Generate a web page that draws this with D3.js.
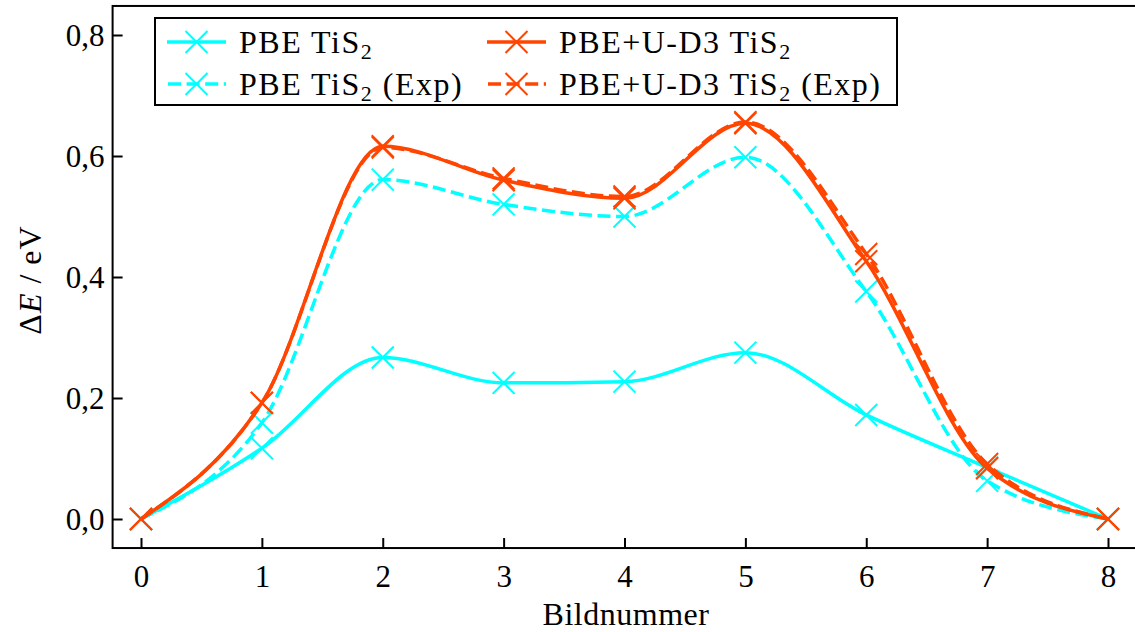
<!DOCTYPE html>
<html>
<head>
<meta charset="utf-8">
<script src="https://cdn.jsdelivr.net/npm/d3@7"></script>
<style>
  html, body { margin: 0; padding: 0; background: #fff; }
  svg { display: block; }
  text { font-family: "Liberation Serif", "DejaVu Serif", serif; fill: #000; }
</style>
</head>
<body>
<svg id="chart" width="1135" height="632"></svg>
<script>
// Image index along the reaction path
const images = [0, 1, 2, 3, 4, 5, 6, 7, 8];

// Relative energies in eV
const pbe        = [0.000, 0.117, 0.267, 0.225, 0.227, 0.275, 0.172, 0.085, 0.000];
const pbeExp     = [0.000, 0.159, 0.561, 0.520, 0.500, 0.598, 0.376, 0.063, 0.000];
const pbeUD3     = [0.000, 0.192, 0.616, 0.560, 0.530, 0.654, 0.426, 0.084, 0.000];
const pbeUD3Exp  = [0.000, 0.192, 0.614, 0.563, 0.533, 0.656, 0.438, 0.091, 0.000];

const xTicks = [0, 1, 2, 3, 4, 5, 6, 7, 8];
const yTicks = [0.0, 0.2, 0.4, 0.6, 0.8];

const seriesNames = ["PBE TiS", "PBE TiS", "PBE+U-D3 TiS", "PBE+U-D3 TiS"];
const seriesSuffix = ["", " (Exp)", "", " (Exp)"];
const seriesColors = ["#00ffff", "#00ffff", "#ff4500", "#ff4500"];
const seriesDashed = [false, true, false, true];
const seriesValues = [pbe, pbeExp, pbeUD3, pbeUD3Exp];

const svg = d3.select("#chart");

const x = d3.scaleLinear().domain([0, 8]).range([141, 1108]);
const y = d3.scaleLinear().domain([0, 0.8]).range([519, 35]);
const xLim = [-0.235, 8.25];
const yLim = [-0.048, 0.848];

const line = d3.line()
  .x((d, i) => x(images[i]))
  .y(d => y(d))
  .curve(d3.curveMonotoneX);

const LW = 3.5;
const DASH = "13,5.6";
const MS = 11;

function drawX(g, cx, cy, color) {
  g.append("path")
    .attr("d", `M${cx - MS},${cy - MS}L${cx + MS},${cy + MS}M${cx - MS},${cy + MS}L${cx + MS},${cy - MS}`)
    .attr("stroke", color).attr("stroke-width", 2).attr("fill", "none");
}

// Data series
const plot = svg.append("g");
seriesValues.forEach((vals, s) => {
  const g = plot.append("g");
  g.append("path")
    .attr("d", line(vals))
    .attr("fill", "none")
    .attr("stroke", seriesColors[s])
    .attr("stroke-width", LW)
    .attr("stroke-dasharray", seriesDashed[s] ? DASH : null);
  vals.forEach((v, i) => drawX(g, x(images[i]), y(v), seriesColors[s]));
});

// Frame
const frameL = x(xLim[0]), frameR = x(xLim[1]), frameT = y(yLim[1]), frameB = y(yLim[0]);
svg.append("rect")
  .attr("x", frameL).attr("y", frameT)
  .attr("width", frameR - frameL).attr("height", frameB - frameT)
  .attr("fill", "none").attr("stroke", "#000").attr("stroke-width", 2);

// Ticks pointing inward
const xAxis = d3.axisBottom(x).tickValues(xTicks).tickSize(-10).tickPadding(17)
  .tickFormat(d3.format("d"));
const gx = svg.append("g").attr("transform", `translate(0,${frameB})`).call(xAxis);
gx.select(".domain").remove();
gx.selectAll(".tick line").attr("stroke", "#000").attr("stroke-width", 2);
gx.selectAll(".tick text").attr("font-size", 31).attr("dy", "0.71em");
gx.attr("font-family", null);

const yAxis = d3.axisLeft(y).tickValues(yTicks).tickSize(-10).tickPadding(8)
  .tickFormat(d => d3.format(".1f")(d).replace(".", ","));
const gy = svg.append("g").attr("transform", `translate(${frameL},0)`).call(yAxis);
gy.select(".domain").remove();
gy.selectAll(".tick line").attr("stroke", "#000").attr("stroke-width", 2);
gy.selectAll(".tick text").attr("font-size", 31).attr("dy", "0.34em");
gy.attr("font-family", null);

// Axis titles
svg.append("text")
  .attr("x", 626).attr("y", 625)
  .attr("text-anchor", "middle").attr("font-size", 32)
  .attr("letter-spacing", 0.5)
  .text("Bildnummer");

const yl = svg.append("text")
  .attr("transform", "translate(41,280) rotate(-90)")
  .attr("text-anchor", "middle").attr("font-size", 32)
  .attr("letter-spacing", 1);
yl.append("tspan").text("Δ");
yl.append("tspan").attr("font-style", "italic").text("E");
yl.append("tspan").text(" / eV");

// Legend
const legend = svg.append("g");
legend.append("rect")
  .attr("x", 155).attr("y", 18).attr("width", 742).attr("height", 87)
  .attr("fill", "#fff").attr("stroke", "#000").attr("stroke-width", 2);

const legendPos = [
  {hx: 167, tx: 239, cy: 42},
  {hx: 167, tx: 239, cy: 84},
  {hx: 487, tx: 559, cy: 42},
  {hx: 487, tx: 559, cy: 84}
];
seriesNames.forEach((name, s) => {
  const p = legendPos[s];
  const g = legend.append("g");
  g.append("line")
    .attr("x1", p.hx).attr("x2", p.hx + 59).attr("y1", p.cy).attr("y2", p.cy)
    .attr("stroke", seriesColors[s]).attr("stroke-width", LW)
    .attr("stroke-dasharray", seriesDashed[s] ? DASH : null)
    .attr("stroke-dashoffset", seriesDashed[s] ? -1 : null);
  drawX(g, p.hx + 29.5, p.cy, seriesColors[s]);
  const t = g.append("text").attr("x", p.tx).attr("y", p.cy + 11)
    .attr("font-size", 32).attr("letter-spacing", 1.5);
  t.append("tspan").text(name);
  t.append("tspan").attr("font-size", 22).attr("dy", 6).text("2");
  if (seriesSuffix[s]) t.append("tspan").attr("dy", -6).text(seriesSuffix[s]);
});
</script>
</body>
</html>
